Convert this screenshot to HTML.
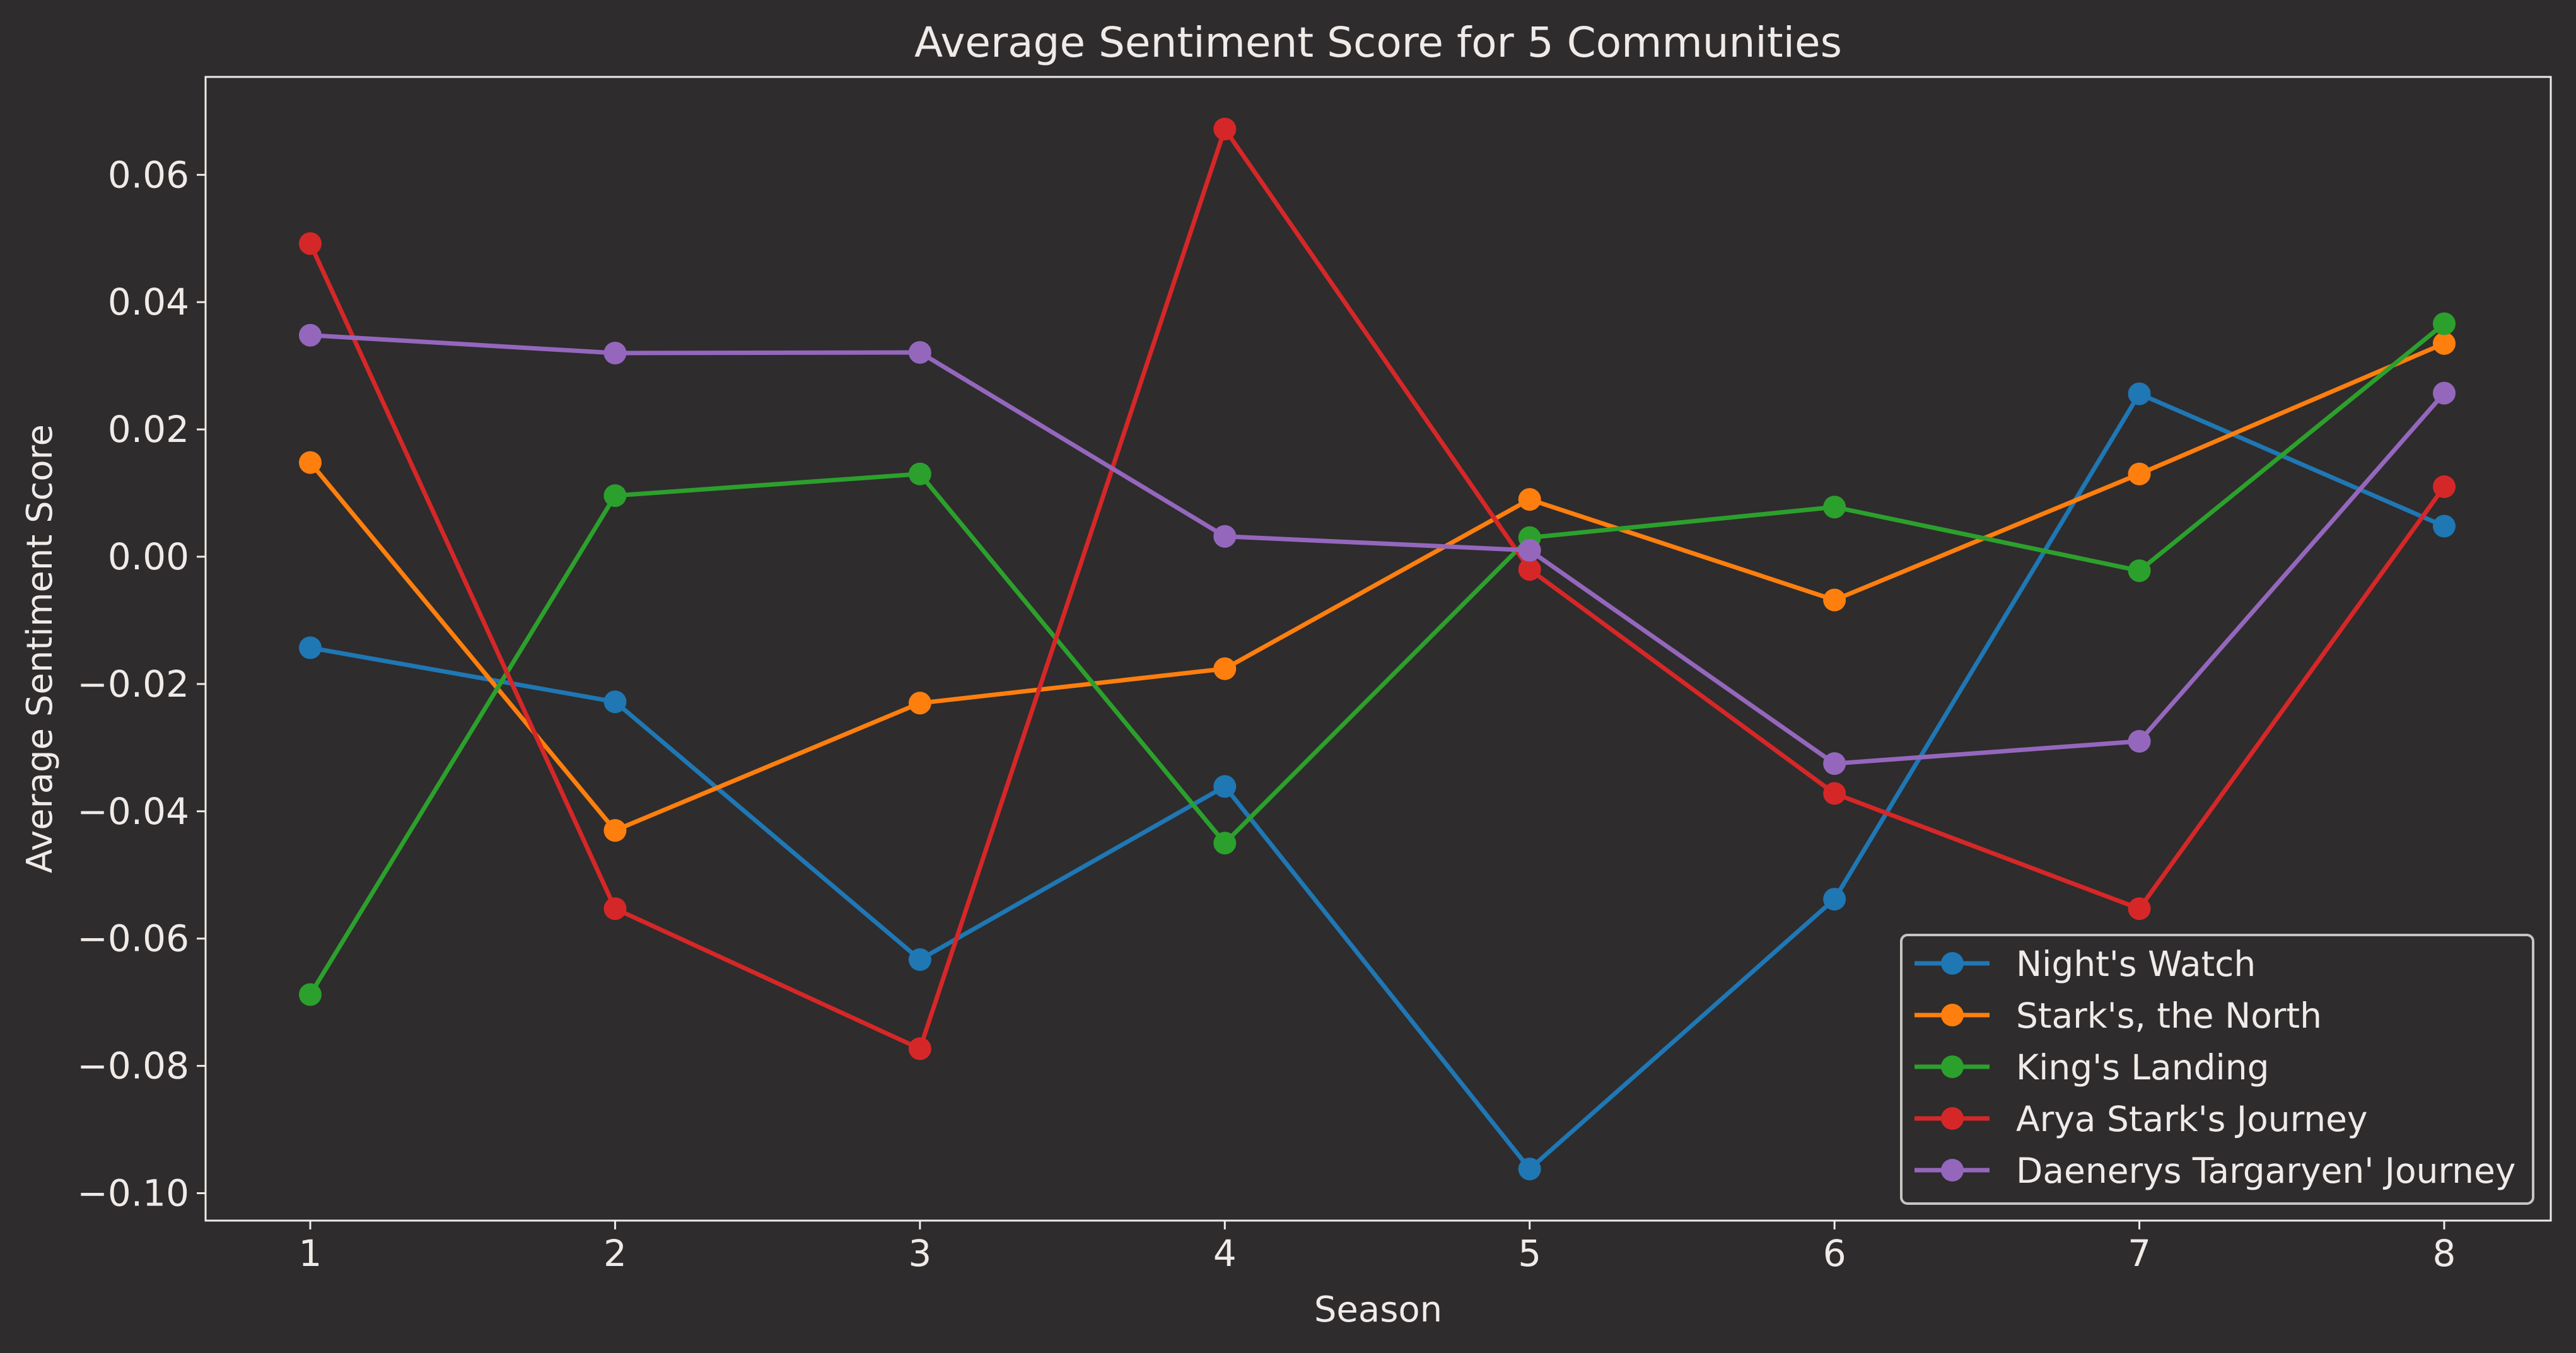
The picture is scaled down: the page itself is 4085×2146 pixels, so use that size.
<!DOCTYPE html>
<html><head><meta charset="utf-8"><style>
html,body{margin:0;padding:0;background:#2e2c2d;}
svg{display:block;font-family:"DejaVu Sans","Liberation Sans",sans-serif;}
</style></head><body>
<svg id="chart" width="4085" height="2146" viewBox="0 0 4085 2146" xmlns="http://www.w3.org/2000/svg">
<rect x="0" y="0" width="4085" height="2146" fill="#2e2c2d"/>
<g id="plot"></g>
</svg>
<script>
const seasons = [1,2,3,4,5,6,7,8];
const nightsWatch = [-0.0143,-0.0228,-0.0633,-0.0361,-0.0962,-0.0538,0.0256,0.0048];
const starks = [0.0148,-0.0430,-0.0230,-0.0176,0.0090,-0.0068,0.0130,0.0335];
const kingsLanding = [-0.0688,0.0096,0.0130,-0.0450,0.0030,0.0078,-0.0022,0.0366];
const arya = [0.0492,-0.0553,-0.0773,0.0672,-0.0020,-0.0372,-0.0553,0.0110];
const daenerys = [0.0348,0.0320,0.0321,0.0032,0.0010,-0.0325,-0.0290,0.0257];
const seriesNames = ["Night's Watch","Stark's, the North","King's Landing","Arya Stark's Journey","Daenerys Targaryen' Journey"];
const yTicks = [-0.10,-0.08,-0.06,-0.04,-0.02,0.00,0.02,0.04,0.06];
const yTickLabels = ["\u22120.10","\u22120.08","\u22120.06","\u22120.04","\u22120.02","0.00","0.02","0.04","0.06"];

const NS="http://www.w3.org/2000/svg";
const g=document.getElementById('plot');
const L=326,R=4045,T=122,B=1936;
const xS=v=>492+(v-1)*(3876-492)/7;
const yS=v=>883-v*10095;
const colors=["#1f77b4","#ff7f0e","#2ca02c","#d62728","#9467bd"];
const data=[nightsWatch,starks,kingsLanding,arya,daenerys];
const fg="#f0ebe8";
function mk(tag,attrs){const e=document.createElementNS(NS,tag);for(const k in attrs)e.setAttribute(k,attrs[k]);g.appendChild(e);return e;}

yTicks.forEach((v,i)=>{
  const y=yS(v);
  const t=mk('line',{x1:L-14,x2:L,y1:y,y2:y,stroke:fg,'stroke-width':3});
  
  
  const tx=mk('text',{x:L-26,y:y+20,'text-anchor':'end','font-size':58,fill:fg});
  tx.textContent=yTickLabels[i];
  
  
});
seasons.forEach(s=>{
  const x=xS(s);
  const t=mk('line',{x1:x,x2:x,y1:B,y2:B+14,stroke:fg,'stroke-width':3});
  
  
  const tx=mk('text',{x:x,y:B+72,'text-anchor':'middle','font-size':58,fill:fg});
  tx.textContent=String(s);
  
  
});

data.forEach((arr,si)=>{
  const pts=arr.map((v,i)=>xS(seasons[i])+','+yS(v)).join(' ');
  const pl=mk('polyline',{points:pts,fill:'none',stroke:colors[si],'stroke-width':7,'stroke-linejoin':'round'});
  
  
  arr.forEach((v,i)=>{
    const c=mk('circle',{cx:xS(seasons[i]),cy:yS(v),r:18,fill:colors[si]});
    
    
  });
});

const fr=mk('rect',{x:L,y:T,width:R-L,height:B-T,fill:'none',stroke:fg,'stroke-width':3});



const ti=mk('text',{x:(L+R)/2,y:90,'text-anchor':'middle','font-size':66,fill:fg});
ti.textContent="Average Sentiment Score for 5 Communities";


const xt=mk('text',{x:(L+R)/2,y:2096,'text-anchor':'middle','font-size':56,fill:fg});
xt.textContent="Season";


const yt=mk('text',{x:0,y:0,'text-anchor':'middle','font-size':56,fill:fg,transform:'translate(82,'+((T+B)/2)+') rotate(-90)'});
yt.textContent="Average Sentiment Score";



const lb=mk('rect',{x:3015,y:1483,width:1002,height:426,rx:10,fill:'#2e2c2d',stroke:'#c8c4c2','stroke-width':4});


seriesNames.forEach((n,i)=>{
  const y=1528+i*82;
  const ln=mk('line',{x1:3036,x2:3155,y1:y,y2:y,stroke:colors[i],'stroke-width':7});
  
  
  const c=mk('circle',{cx:3096,cy:y,r:18,fill:colors[i]});
  
  
  const t=mk('text',{x:3197,y:y+20,'font-size':55,fill:fg});
  t.textContent=n;
  
  
});
</script>
</body></html>
